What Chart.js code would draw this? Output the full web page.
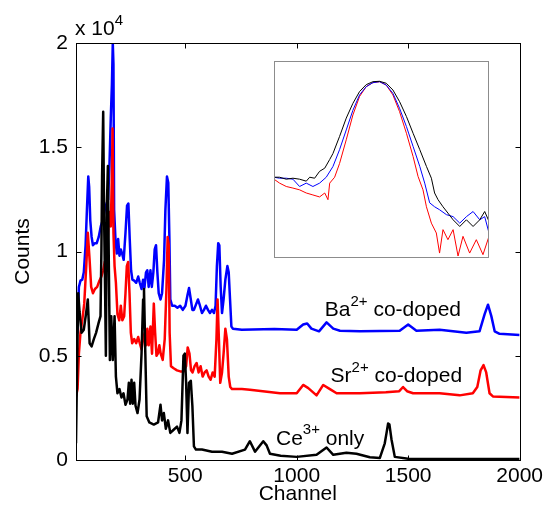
<!DOCTYPE html>
<html>
<head>
<meta charset="utf-8">
<script src="https://cdn.jsdelivr.net/npm/chart.js@4.4.1/dist/chart.umd.min.js"></script>
<style>
  body { margin: 0; background: #fff; }
  #wrap { position: relative; width: 547px; height: 508px; }
  #inset { position: absolute; left: 274px; top: 61px; }
</style>
</head>
<body>
<div id="wrap">
  <canvas id="main" width="547" height="508"></canvas>
  <canvas id="inset" width="215" height="197"></canvas>
</div>
<script>
"use strict";

// ---- data (counts, curves already offset as in the figure) ----
var xTicks = [500, 1000, 1500, 2000];
var yTicks = [0, 5000, 10000, 15000, 20000];

var ceCh  = [10,15,20,26,35,45,56,63,71,80,90,100,112,120,124,127,132,136,141,144,148,153,157,162,168,175,183,189,196,205,214,223,232,241,247,253,259,265,271,277,286,295,304,311,315,321,327,339,359,378,389,396,404,413,423,433,448,463,474,483,492,498,504,510,517,525,532,539,548,575,620,665,710,768,790,813,850,865,880,928,1000,1089,1134,1164,1223,1268,1328,1373,1395,1403,1410,1416,1425,1440,1500,1600,1700,1800,1900,2000];
var ceVal = [800,4500,8000,7100,6100,6250,7100,7700,5600,5450,5800,6100,6600,6900,10100,13600,16700,11700,7700,5000,12000,14100,9600,4800,6900,4800,6900,4000,3200,3400,3000,3200,2650,2900,3700,2700,3850,2700,3700,2600,2250,2900,5100,7700,8200,5100,2100,1800,1700,1800,2650,1900,2250,1500,1900,1300,1450,1600,1300,1900,5000,5100,3700,1300,3700,3800,2600,650,500,500,400,400,300,500,900,400,900,700,300,200,150,250,600,250,350,300,130,100,800,1300,1750,1700,1000,150,60,50,50,50,50,50];

var srCh  = [10,17,23,30,38,47,56,63,71,78,86,95,105,115,124,132,139,147,154,160,166,171,174,178,183,189,196,204,211,218,226,232,238,244,250,256,262,271,280,289,296,304,311,318,324,330,336,344,351,359,365,371,377,384,390,399,408,416,421,426,430,436,448,463,478,493,504,511,519,526,533,542,551,560,569,578,587,596,605,614,623,632,640,645,651,657,665,672,680,687,695,702,710,754,790,925,1000,1029,1052,1089,1119,1149,1179,1283,1400,1460,1477,1495,1522,1641,1731,1790,1810,1825,1838,1850,1865,1880,2000];
var srVal = [3050,3400,5100,6100,6700,7500,9300,10900,9600,8300,8000,8200,8300,8600,8800,9100,9500,9600,10900,11900,11200,13600,15900,10900,9300,8500,7000,6700,7400,6700,6900,8000,9300,9500,8000,6100,5600,5800,5600,5900,5600,5300,5800,6100,5500,6300,5500,6400,5100,7500,6100,5000,5100,5500,5100,4800,5800,8300,10700,10300,6100,4500,4400,4300,4250,4250,4500,5400,5100,4300,4200,4500,4650,4200,4500,4000,4200,4300,4000,3850,4200,4000,5800,7700,5800,3700,4200,5100,6300,5800,4000,3500,3400,3400,3370,3200,3200,3600,3450,3100,3600,3400,3200,3200,3250,3300,3500,3300,3200,3200,3100,3200,3500,4300,4550,4200,3200,3050,3000];

var baCh  = [10,16,23,30,38,45,53,59,65,69,74,80,86,95,103,112,121,130,139,147,154,160,166,171,175,178,181,187,193,199,205,211,217,224,232,239,245,251,257,263,271,280,289,296,304,311,317,324,330,336,344,350,357,363,369,375,381,389,396,405,411,418,424,429,433,441,453,465,477,489,501,510,517,525,532,539,548,557,566,575,584,593,602,611,620,629,636,642,648,653,659,665,672,680,689,695,701,707,714,754,900,1000,1029,1047,1066,1100,1134,1164,1194,1283,1462,1500,1537,1641,1761,1820,1843,1858,1873,1888,1910,2000];
var baVal = [6000,6100,8300,8600,8650,9000,10300,12000,13600,13100,11500,10700,10300,10400,10400,10700,11200,11500,12000,12300,12500,14100,16400,18000,20000,19000,12000,10600,9900,10600,9800,10100,9900,9600,10900,12200,12300,10600,9100,8650,8600,8500,8800,8500,8200,8650,8250,9000,9100,8300,9100,8300,9000,10100,10300,9000,8000,7700,8000,9600,12000,13600,13300,10600,7700,7400,7400,7300,7400,7200,7400,7900,8250,7700,7200,7200,7450,7700,7400,7050,7200,7400,7200,7050,7200,7050,7400,9300,10400,10300,8300,7050,7700,8650,9300,9000,7700,6400,6300,6250,6280,6250,6500,6550,6300,6170,6600,6300,6200,6170,6200,6500,6200,6250,6100,6170,7000,7450,6900,6170,6050,6000];

// inset: normalised peak shapes (arbitrary x units 0-100)
var inBlackX = [0,2.6,5.7,8.8,11.9,15,16.6,18.9,21.2,23.6,25.9,27.4,30.5,33.6,36.7,39.8,42.9,46,49.1,52.2,55.3,58.4,61.6,64.7,67.8,70.9,73.2,74.7,76.3,78.6,80.9,83.3,86.4,89.5,92.6,95.7,98,100];
var inBlackY = [0.41,0.41,0.40,0.405,0.40,0.39,0.41,0.405,0.44,0.456,0.50,0.53,0.617,0.71,0.785,0.845,0.88,0.895,0.897,0.887,0.853,0.794,0.718,0.633,0.55,0.465,0.405,0.33,0.296,0.26,0.228,0.194,0.16,0.194,0.16,0.194,0.236,0.186];
var inBlueX = [0,2.6,5.7,8.8,11.9,15,18.1,21.2,24.3,27.4,30.5,33.6,36.7,39.8,42.9,46,49.1,52.2,55.3,58.4,61.6,64.7,67.8,70.1,72.4,74.7,77,80.2,83.3,86.4,89.5,92.6,95.7,98,100];
var inBlueY = [0.41,0.405,0.405,0.40,0.363,0.38,0.363,0.38,0.41,0.464,0.55,0.65,0.75,0.828,0.87,0.89,0.895,0.878,0.836,0.76,0.667,0.566,0.465,0.38,0.28,0.26,0.245,0.22,0.21,0.177,0.21,0.236,0.194,0.21,0.127];
var inRedX = [0,2.6,5.7,8.8,11.9,15,18.1,21.2,23.6,25.1,25.9,28.2,30.5,33.6,36.7,39.8,42.9,46,49.1,52.2,55.3,58.4,61.6,64.7,67,69.3,70.9,73.2,75.5,77,78.6,80.9,83.3,85.6,87.9,91,94.1,97.2,100];
var inRedY = [0.40,0.38,0.363,0.355,0.346,0.33,0.32,0.31,0.33,0.296,0.38,0.41,0.48,0.60,0.726,0.82,0.87,0.89,0.895,0.878,0.828,0.743,0.633,0.515,0.414,0.346,0.26,0.177,0.127,0.025,0.144,0.093,0.144,0.01,0.11,0.025,0.093,0.017,0.11];

function pts(xs, ys) {
	return xs.map(function (x, i) { return { x: x, y: ys[i] }; });
}

var FONT = "'Liberation Sans', Arial, Helvetica, sans-serif";
Chart.defaults.font.family = FONT;
Chart.defaults.color = '#000';

// text with superscripts: parts = [[text, isSup], ...]
function supText(ctx, x, y, parts, size) {
	ctx.save();
	ctx.fillStyle = '#000';
	ctx.textBaseline = 'alphabetic';
	ctx.textAlign = 'left';
	parts.forEach(function (p) {
		var s = p[1] ? Math.round(size * 0.72) : size;
		ctx.font = s + 'px ' + FONT;
		ctx.fillText(p[0], x, p[1] ? y - size * 0.5 : y);
		x += ctx.measureText(p[0]).width;
	});
	ctx.restore();
}

var frame = {
	id: 'frame',
	afterDatasetsDraw: function (chart) {
		var ctx = chart.ctx, a = chart.chartArea;
		var sx = chart.scales.x, sy = chart.scales.y;
		var L = Math.round(a.left) + 0.5, R = Math.round(a.right) + 0.5;
		var T = Math.round(a.top) + 0.5, B = Math.round(a.bottom) + 0.5;
		ctx.save();
		ctx.strokeStyle = '#000';
		ctx.lineWidth = 1;
		ctx.strokeRect(L, T, R - L, B - T);
		ctx.beginPath();
		xTicks.forEach(function (v) {
			var px = Math.round(sx.getPixelForValue(v)) + 0.5;
			ctx.moveTo(px, B); ctx.lineTo(px, B - 5);
			ctx.moveTo(px, T); ctx.lineTo(px, T + 5);
		});
		yTicks.forEach(function (v) {
			var py = Math.round(sy.getPixelForValue(v)) + 0.5;
			ctx.moveTo(L, py); ctx.lineTo(L + 5, py);
			ctx.moveTo(R, py); ctx.lineTo(R - 5, py);
		});
		ctx.stroke();
		ctx.restore();

		// multiplier and curve labels
		supText(ctx, a.left - 1, a.top - 8, [['x 10', false], ['4', true]], 21);
		supText(ctx, sx.getPixelForValue(1126), sy.getPixelForValue(6890), [['Ba', false], ['2+', true], [' co-doped', false]], 21);
		supText(ctx, sx.getPixelForValue(1152), sy.getPixelForValue(3720), [['Sr', false], ['2+', true], [' co-doped', false]], 21);
		supText(ctx, sx.getPixelForValue(907), sy.getPixelForValue(720), [['Ce', false], ['3+', true], [' only', false]], 21);
	}
};

new Chart(document.getElementById('main'), {
	type: 'line',
	data: {
		datasets: [
			{ label: 'Ce3+ only', data: pts(ceCh, ceVal), borderColor: '#000000' },
			{ label: 'Sr2+ co-doped', data: pts(srCh, srVal), borderColor: '#ff0000' },
			{ label: 'Ba2+ co-doped', data: pts(baCh, baVal), borderColor: '#0000ff' }
		]
	},
	options: {
		responsive: false,
		animation: false,
		layout: { padding: { top: 43, right: 26, left: 0, bottom: 0 } },
		elements: {
			point: { radius: 0 },
			line: { borderWidth: 2.5, tension: 0, fill: false, borderJoinStyle: 'round' }
		},
		plugins: { legend: { display: false }, tooltip: { enabled: false } },
		scales: {
			x: {
				type: 'linear', min: 10, max: 2000,
				afterBuildTicks: function (s) { s.ticks = xTicks.map(function (v) { return { value: v }; }); },
				afterFit: function (s) { s.height = 48; },
				grid: { display: false, drawTicks: false },
				border: { display: false },
				ticks: { font: { size: 21 }, padding: 4, maxRotation: 0, autoSkip: false, callback: function (v) { return String(v); } },
				title: { display: true, text: 'Channel', font: { size: 21 }, padding: { top: 0, bottom: 1 } }
			},
			y: {
				min: 0, max: 20000,
				afterBuildTicks: function (s) { s.ticks = yTicks.map(function (v) { return { value: v }; }); },
				afterFit: function (s) { s.width = 76; },
				grid: { display: false, drawTicks: false },
				border: { display: false },
				ticks: { font: { size: 21 }, padding: 8, callback: function (v) { return String(v / 10000); } },
				title: { display: true, text: 'Counts', font: { size: 21 }, padding: { top: 11, bottom: 0 } }
			}
		}
	},
	plugins: [frame]
});

var insetBox = {
	id: 'insetBox',
	afterDraw: function (chart) {
		var ctx = chart.ctx;
		ctx.save();
		ctx.strokeStyle = '#8c8c8c';
		ctx.lineWidth = 1;
		ctx.strokeRect(0.5, 0.5, chart.width - 1, chart.height - 1);
		ctx.restore();
	}
};

new Chart(document.getElementById('inset'), {
	type: 'line',
	data: {
		datasets: [
			{ data: pts(inBlackX, inBlackY), borderColor: '#000000' },
			{ data: pts(inBlueX, inBlueY), borderColor: '#0000ff' },
			{ data: pts(inRedX, inRedY), borderColor: '#ff0000' }
		]
	},
	options: {
		responsive: false,
		animation: false,
		layout: { padding: 0 },
		elements: {
			point: { radius: 0 },
			line: { borderWidth: 1, tension: 0, fill: false }
		},
		plugins: { legend: { display: false }, tooltip: { enabled: false } },
		scales: {
			x: { type: 'linear', min: 0, max: 100, display: false },
			y: { min: 0, max: 1, display: false }
		}
	},
	plugins: [insetBox]
});
</script>
</body>
</html>
